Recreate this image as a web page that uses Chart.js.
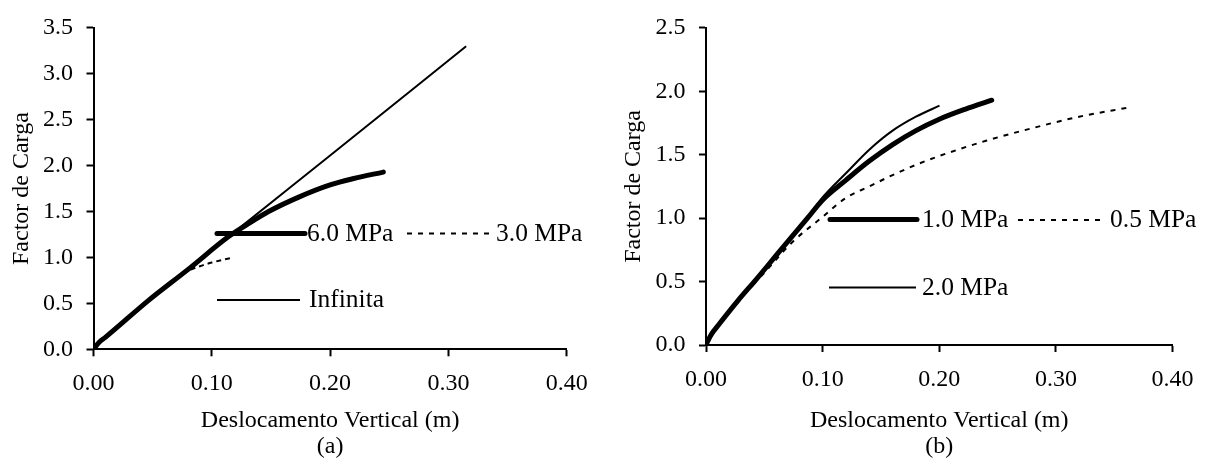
<!DOCTYPE html>
<html>
<head>
<meta charset="utf-8">
<script src="https://cdn.jsdelivr.net/npm/chart.js@4.4.1/dist/chart.umd.min.js"></script>
<style>
  html, body { margin:0; padding:0; background:#fff; }
  #wrap { position:relative; width:1207px; height:473px; overflow:hidden; background:#fff; }
  canvas { position:absolute; top:0; }
</style>
</head>
<body>
<div id="wrap">
  <canvas id="cA" width="603" height="473" style="left:0px"></canvas>
  <canvas id="cB" width="604" height="473" style="left:603px"></canvas>
</div>
<script>
// ---------- Data: panel (a) ----------
const a_inf_x = [0, 0.002, 0.005, 0.01, 0.0463, 0.08, 0.1145, 0.2, 0.315];
const a_inf_y = [0, 0.035, 0.08, 0.13, 0.53, 0.87, 1.23, 2.11, 3.30];
const a_6mpa_x = [0, 0.002, 0.005, 0.01, 0.0463, 0.08, 0.1145, 0.13, 0.148, 0.174, 0.2, 0.22, 0.245];
const a_6mpa_y = [0, 0.035, 0.08, 0.13, 0.53, 0.87, 1.23, 1.36, 1.50, 1.66, 1.79, 1.86, 1.93];
const a_3mpa_x = [0, 0.002, 0.005, 0.01, 0.0463, 0.07, 0.08, 0.09, 0.1, 0.117];
const a_3mpa_y = [0, 0.035, 0.08, 0.13, 0.53, 0.775, 0.855, 0.905, 0.945, 0.997];

// ---------- Data: panel (b) ----------
const b_2mpa_x = [0, 0.002, 0.005, 0.01, 0.0274, 0.0433, 0.065, 0.087, 0.0996, 0.1206, 0.14, 0.16, 0.18, 0.2002];
const b_2mpa_y = [0, 0.04, 0.09, 0.15, 0.35, 0.52, 0.76, 1.0, 1.16, 1.36, 1.54, 1.69, 1.80, 1.887];
const b_1mpa_x = [0, 0.002, 0.005, 0.01, 0.0274, 0.0433, 0.065, 0.087, 0.0996, 0.12, 0.14, 0.16, 0.18, 0.2, 0.2225, 0.245];
const b_1mpa_y = [0, 0.04, 0.09, 0.15, 0.35, 0.52, 0.76, 1.0, 1.14, 1.30, 1.45, 1.58, 1.69, 1.78, 1.86, 1.93];
const b_05mpa_x = [0, 0.002, 0.005, 0.01, 0.0274, 0.048, 0.075, 0.1, 0.12, 0.14, 0.16, 0.18, 0.2, 0.24, 0.28, 0.32, 0.364];
const b_05mpa_y = [0, 0.04, 0.09, 0.15, 0.35, 0.55, 0.82, 1.01, 1.16, 1.25, 1.34, 1.42, 1.49, 1.61, 1.71, 1.80, 1.875];

// ---------- Tick labels ----------
const xTickLabels = ['0.00', '0.10', '0.20', '0.30', '0.40'];
const yTickLabelsA = ['0.0', '0.5', '1.0', '1.5', '2.0', '2.5', '3.0', '3.5'];
const yTickLabelsB = ['0.0', '0.5', '1.0', '1.5', '2.0', '2.5'];

const xTitle = 'Deslocamento Vertical (m)';
const yTitle = 'Factor de Carga';

// ---------- Legend entries (drawn inside plots) ----------
const legendA = [
  { label: '6.0 MPa', width: 5, dash: [], x0: 217, x1: 305, y: 233.5, tx: 307 },
  { label: '3.0 MPa', width: 2, dash: [5, 6], x0: 407, x1: 492, y: 233.5, tx: 496 },
  { label: 'Infinita', width: 2, dash: [], x0: 217, x1: 300, y: 300, tx: 309 }
];
const legendB = [
  { label: '1.0 MPa', width: 5, dash: [], x0: 227, x1: 314, y: 219.5, tx: 319 },
  { label: '0.5 MPa', width: 2, dash: [5, 6], x0: 415, x1: 502, y: 220, tx: 507 },
  { label: '2.0 MPa', width: 2, dash: [], x0: 226, x1: 313, y: 287.5, tx: 319 }
];

const FONT = 'Liberation Serif';
const TICK_SIZE = 24;
const pts = (xs, ys) => xs.map((x, i) => ({ x: x, y: ys[i] }));

const legendPlugin = {
  id: 'inlineLegend',
  afterDatasetsDraw(chart, args, opts) {
    const ctx = chart.ctx;
    ctx.save();
    opts.items.forEach(it => {
      ctx.beginPath();
      ctx.strokeStyle = '#000';
      ctx.lineWidth = it.width;
      ctx.lineCap = it.width > 3 ? 'round' : 'butt';
      ctx.setLineDash(it.dash);
      ctx.moveTo(it.x0, it.y);
      ctx.lineTo(it.x1, it.y);
      ctx.stroke();
      ctx.setLineDash([]);
      ctx.fillStyle = '#000';
      ctx.font = '25.5px "' + FONT + '"';
      ctx.textAlign = 'left';
      ctx.textBaseline = 'middle';
      ctx.fillText(it.label, it.tx, it.y + 0.5);
    });
    ctx.restore();
  }
};

function ds(xs, ys, width, dash) {
  return {
    data: pts(xs, ys),
    showLine: true,
    pointRadius: 0,
    borderColor: '#000',
    backgroundColor: '#000',
    borderWidth: width,
    borderDash: dash,
    borderCapStyle: width > 3 ? 'round' : 'butt',
    borderJoinStyle: 'round',
    cubicInterpolationMode: 'monotone',
    fill: false
  };
}

function makeOptions(cfg) {
  return {
    responsive: false,
    animation: false,
    devicePixelRatio: 1,
    layout: { padding: { left: 0, top: 23.3, right: cfg.padRight, bottom: 0 } },
    plugins: {
      legend: { display: false },
      tooltip: { enabled: false },
      inlineLegend: { items: cfg.legend }
    },
    scales: {
      x: {
        type: 'linear', min: 0, max: 0.4,
        ticks: {
          stepSize: 0.1, padding: 13.5, color: '#000',
          font: { family: FONT, size: TICK_SIZE },
          maxRotation: 0,
          callback: (v) => xTickLabels[Math.round(v / 0.1)] ?? v.toFixed(2)
        },
        grid: { display: true, drawOnChartArea: false, drawTicks: true, tickLength: 7, tickWidth: 2, tickColor: '#000' },
        border: { display: true, color: '#000', width: 2 },
        title: {
          display: true, text: [xTitle, cfg.tag], color: '#000',
          font: { family: FONT, size: TICK_SIZE, lineHeight: 1.08 },
          padding: { top: 0, bottom: 13.6 }
        },
        afterFit: (s) => { s.height = cfg.xHeight; }
      },
      y: {
        type: 'linear', min: 0, max: cfg.yMax,
        ticks: {
          stepSize: 0.5, padding: 13.5, color: '#000',
          font: { family: FONT, size: TICK_SIZE },
          callback: (v) => cfg.yLabels[Math.round(v / 0.5)] ?? v.toFixed(1)
        },
        grid: { display: true, drawOnChartArea: false, drawTicks: true, tickLength: 7, tickWidth: 2, tickColor: '#000' },
        border: { display: true, color: '#000', width: 2 },
        title: {
          display: true, text: yTitle, color: '#000',
          font: { family: FONT, size: TICK_SIZE, lineHeight: 1.1 },
          padding: { top: cfg.yTitlePad, bottom: 0 }
        },
        afterFit: (s) => { s.width = cfg.yWidth; }
      }
    }
  };
}

new Chart(document.getElementById('cA'), {
  type: 'scatter',
  data: {
    datasets: [
      ds(a_inf_x, a_inf_y, 2, []),
      ds(a_3mpa_x, a_3mpa_y, 2, [5, 4]),
      ds(a_6mpa_x, a_6mpa_y, 5, [])
    ]
  },
  options: makeOptions({ padRight: 36.3, xHeight: 123.7, yWidth: 93.5, yMax: 3.5, yLabels: yTickLabelsA, tag: '(a)', yTitlePad: 8.6, legend: legendA }),
  plugins: [legendPlugin]
});

new Chart(document.getElementById('cB'), {
  type: 'scatter',
  data: {
    datasets: [
      ds(b_05mpa_x, b_05mpa_y, 2, [5, 6]),
      ds(b_2mpa_x, b_2mpa_y, 2, []),
      ds(b_1mpa_x, b_1mpa_y, 5, [])
    ]
  },
  options: makeOptions({ padRight: 30, xHeight: 128, yWidth: 103, yMax: 2.5, yLabels: yTickLabelsB, tag: '(b)', yTitlePad: 17.6, legend: legendB }),
  plugins: [legendPlugin]
});
</script>
</body>
</html>
